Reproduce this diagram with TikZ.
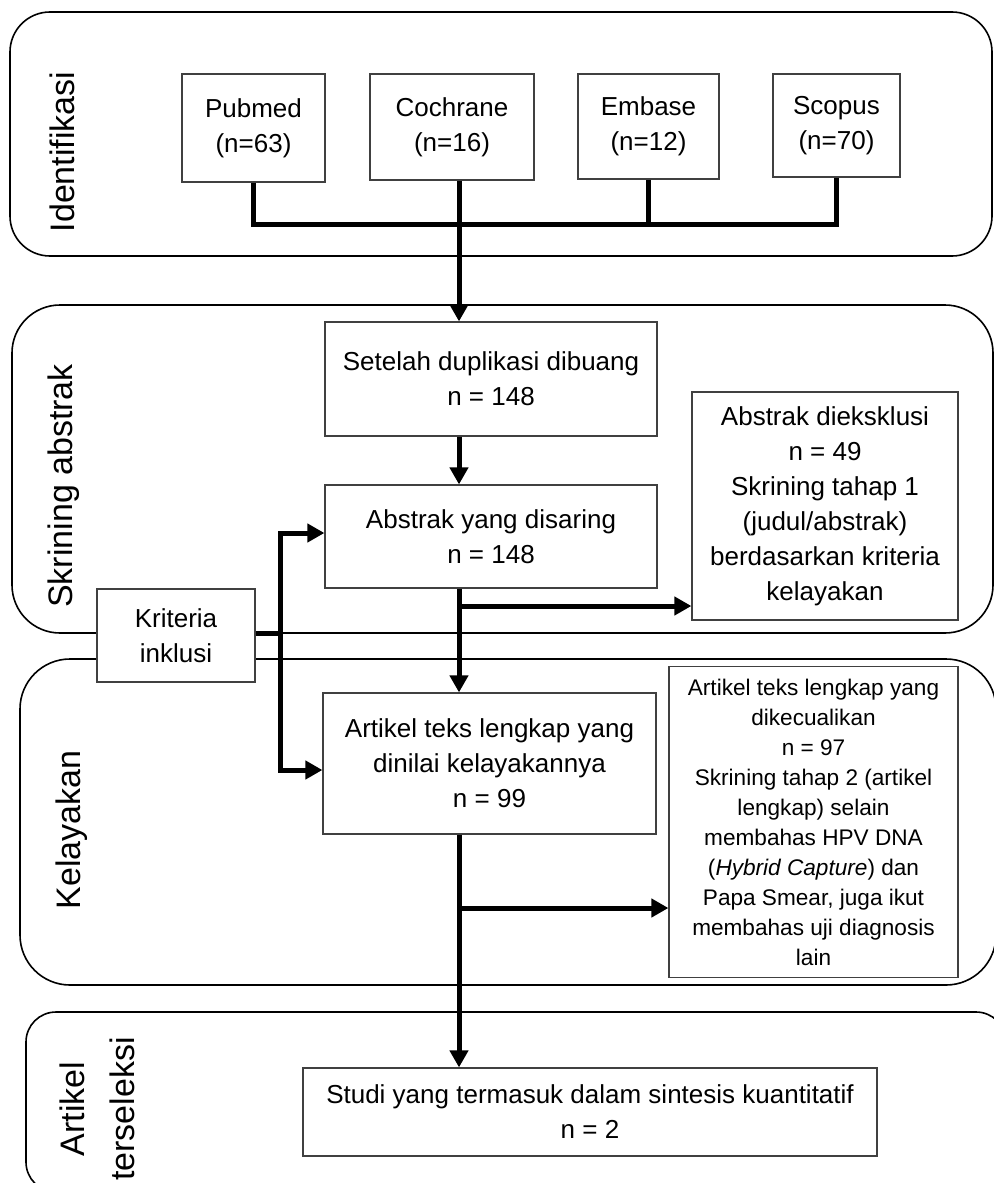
\documentclass[tikz,border=0pt]{standalone}
\usepackage{fontspec}
\setmainfont{Liberation Sans}
\usetikzlibrary{positioning, arrows.meta}
\definecolor{boxline}{HTML}{404040}

\begin{document}
\begin{tikzpicture}[x=0.5pt, y=-0.5pt,
    panel/.style={draw=black, line width=0.8pt, rounded corners=#1},
    panel/.default=20pt,
    box/.style={draw=boxline, line width=0.6pt, fill=white, align=center, inner sep=0pt,
      font=\fontsize{13}{17.5}\selectfont},
    smallbox/.style={box, font=\fontsize{11.3}{15}\selectfont},
    lanelabel/.style={rotate=90, align=center, font=\fontsize{17}{25}\selectfont},
    flow/.style={line width=2.5pt},
    flowarrow/.style={flow, -{Triangle[length=8.5pt, width=9pt]}},
    flowboth/.style={flow, {Triangle[length=8.5pt, width=9pt]}-{Triangle[length=8.5pt, width=9pt]}}]
        \path[use as bounding box] (0,0) rectangle (994,1183);
        \clip (0,0) rectangle (994,1183);
        % tahapan
        \draw[panel=20pt] (10,12) rectangle (992,256);
        \draw[panel=24pt] (12,305) rectangle (993,633);
        \draw[panel=25pt] (20,659) rectangle (996,985);
        \draw[panel=15pt] (26,1012) rectangle (1006,1192);
        \node[lanelabel] (lblident) at (62,152) {Identifikasi};
        \node[lanelabel] (lblskrin) at (64,486) {Skrining abstrak};
        \node[lanelabel] (lbllayak) at (72,830) {Kelayakan};
        \node[lanelabel] (lblseleksi) at (97,1109) {Artikel\\terseleksi};
        % database
        \node[box, minimum width=71.5pt, minimum height=54pt] (pubmed) at (253.5,128) {Pubmed\\(n=63)};
        \node[box, minimum width=82pt, minimum height=53pt] (cochrane) at (452,127) {Cochrane\\(n=16)};
        \node[box, minimum width=70.5pt, minimum height=52.5pt] (embase) at (648.5,126.5) {Embase\\(n=12)};
        \node[box, minimum width=63.5pt, minimum height=51.5pt] (scopus) at (836.5,125.5) {Scopus\\(n=70)};
        % alur utama
        \node[box, minimum width=166pt, minimum height=57pt] (setelah) at (491,379) {Setelah duplikasi dibuang\\n = 148};
        \node[box, minimum width=166pt, minimum height=51.5pt] (disaring) at (491,536.5) {Abstrak yang disaring\\n = 148};
        \node[box, minimum width=133pt, minimum height=114pt] (exclA) at (825,506)
          {Abstrak dieksklusi\\n = 49\\Skrining tahap 1\\(judul/abstrak)\\berdasarkan kriteria\\kelayakan};
        \node[box, minimum width=79pt, minimum height=46.5pt] (kriteria) at (176,635.5) {Kriteria\\inklusi};
        \node[box, minimum width=166.5pt, minimum height=70.5pt] (artikel) at (489.5,763.5)
          {Artikel teks lengkap yang\\dinilai kelayakannya\\n = 99};
        \node[smallbox, minimum width=144.5pt, minimum height=155.5pt] (exclB) at (813.5,822)
          {Artikel teks lengkap yang\\dikecualikan\\n = 97\\Skrining tahap 2 (artikel\\lengkap) selain\\membahas HPV DNA\\(\textit{Hybrid Capture}) dan\\Papa Smear, juga ikut\\membahas uji diagnosis\\lain};
        \node[box, minimum width=287pt, minimum height=44pt] (studi) at (590,1112)
          {Studi yang termasuk dalam sintesis kuantitatif\\n = 2};
        % penghubung
        \coordinate (join) at (459,224);
        \coordinate (split1) at (459,606);
        \coordinate (split2) at (459,908);
        \coordinate (incl) at (280,633);
        \draw[flow] (pubmed.south) |- (scopus.south |- join) -- (scopus.south);
        \draw[flow] (embase.south) -- (embase.south |- join);
        \draw[flowarrow] (cochrane.south -| join) -- (setelah.north -| join);
        \draw[flowarrow] (setelah.south -| join) -- (disaring.north -| join);
        \draw[flowarrow] (disaring.south -| join) -- (artikel.north -| join);
        \draw[flowarrow] (artikel.south -| join) -- (studi.north -| join);
        \draw[flowarrow] (split1) -- (split1 -| exclA.west);
        \draw[flowarrow] (split2) -- (split2 -| exclB.west);
        \draw[flow] (kriteria.east |- incl) -- (incl);
        \draw[flowboth] ([yshift=1.75pt]disaring.west) -| (incl) |- ([yshift=-3.25pt]artikel.west);
      \end{tikzpicture}
\end{document}
